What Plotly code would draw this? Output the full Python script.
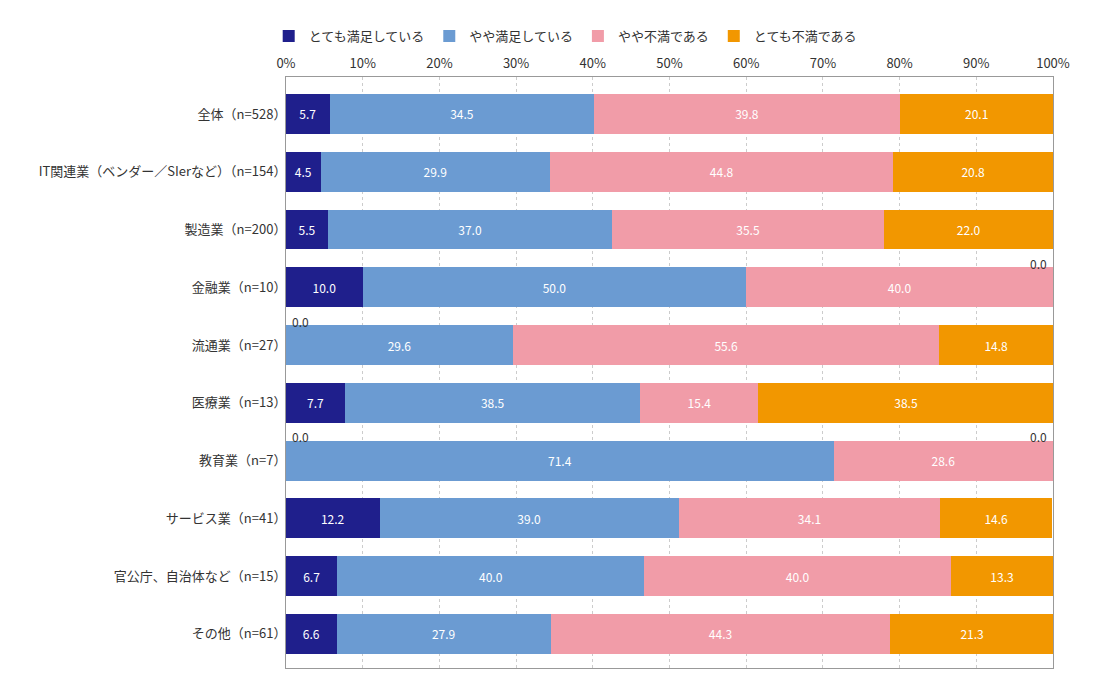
import plotly.graph_objects as go

# 業種別の満足度（%）
categories = [
    "全体（n=528）",
    "IT関連業（ベンダー／SIerなど）（n=154）",
    "製造業（n=200）",
    "金融業（n=10）",
    "流通業（n=27）",
    "医療業（n=13）",
    "教育業（n=7）",
    "サービス業（n=41）",
    "官公庁、自治体など（n=15）",
    "その他（n=61）",
]
series_names = ["とても満足している", "やや満足している", "やや不満である", "とても不満である"]
very_satisfied = [5.7, 4.5, 5.5, 10.0, 0.0, 7.7, 0.0, 12.2, 6.7, 6.6]
somewhat_satisfied = [34.5, 29.9, 37.0, 50.0, 29.6, 38.5, 71.4, 39.0, 40.0, 27.9]
somewhat_dissatisfied = [39.8, 44.8, 35.5, 40.0, 55.6, 15.4, 28.6, 34.1, 40.0, 44.3]
very_dissatisfied = [20.1, 20.8, 22.0, 0.0, 14.8, 38.5, 0.0, 14.6, 13.3, 21.3]
colors = ["#1f1f8c", "#6b9bd2", "#f19ca8", "#f29700"]

FONT = "Noto Sans CJK JP"
series = [very_satisfied, somewhat_satisfied, somewhat_dissatisfied, very_dissatisfied]

fig = go.Figure()
for name, vals, col in zip(series_names, series, colors):
    fig.add_trace(go.Bar(
        y=categories, x=vals, name=name, orientation="h",
        marker=dict(color=col, line=dict(width=0)),
        text=[f"{v:.1f}" if v > 0 else "" for v in vals],
        textposition="inside", insidetextanchor="middle",
        textfont=dict(color="white", size=12, family=FONT),
        constraintext="none", width=0.69,
    ))

# 0.0 の値はバーの上に表示
for i, cat in enumerate(categories):
    if very_satisfied[i] == 0:
        fig.add_annotation(x=0, y=cat, text="0.0", showarrow=False, xanchor="left",
                           xshift=4, yshift=24, font=dict(size=12, color="#333", family=FONT))
    if very_dissatisfied[i] == 0:
        fig.add_annotation(x=100, y=cat, text="0.0", showarrow=False, xanchor="right",
                           xshift=-4, yshift=24, font=dict(size=12, color="#333", family=FONT))

# ページ本体の余白(8px)を差し引いた余白
fig.update_layout(
    barmode="stack", width=1100, height=700,
    margin=dict(l=278, r=55, t=69, b=40, autoexpand=False),
    plot_bgcolor="white", paper_bgcolor="white",
    font=dict(family=FONT, size=13, color="#333"),
    bargap=0.31,
    legend=dict(orientation="h", xref="container", yref="container", x=0.237, y=0.96,
                xanchor="left", yanchor="middle", font=dict(size=13), itemwidth=30,
                traceorder="normal"),
)
fig.update_xaxes(side="top", range=[0, 100], dtick=10, ticksuffix="%",
                 showgrid=True, gridcolor="#cccccc", griddash="dot", gridwidth=1,
                 showline=True, linecolor="#999999", mirror=True, zeroline=False,
                 tickfont=dict(size=13), ticks="", ticklabelstandoff=3, automargin=False)
fig.update_yaxes(autorange=False, range=[9.59, -0.64], showline=True, linecolor="#999999",
                 mirror=True, ticks="", tickfont=dict(size=13), ticklabelstandoff=-4,
                 automargin=False)

fig.write_html("out.html")
